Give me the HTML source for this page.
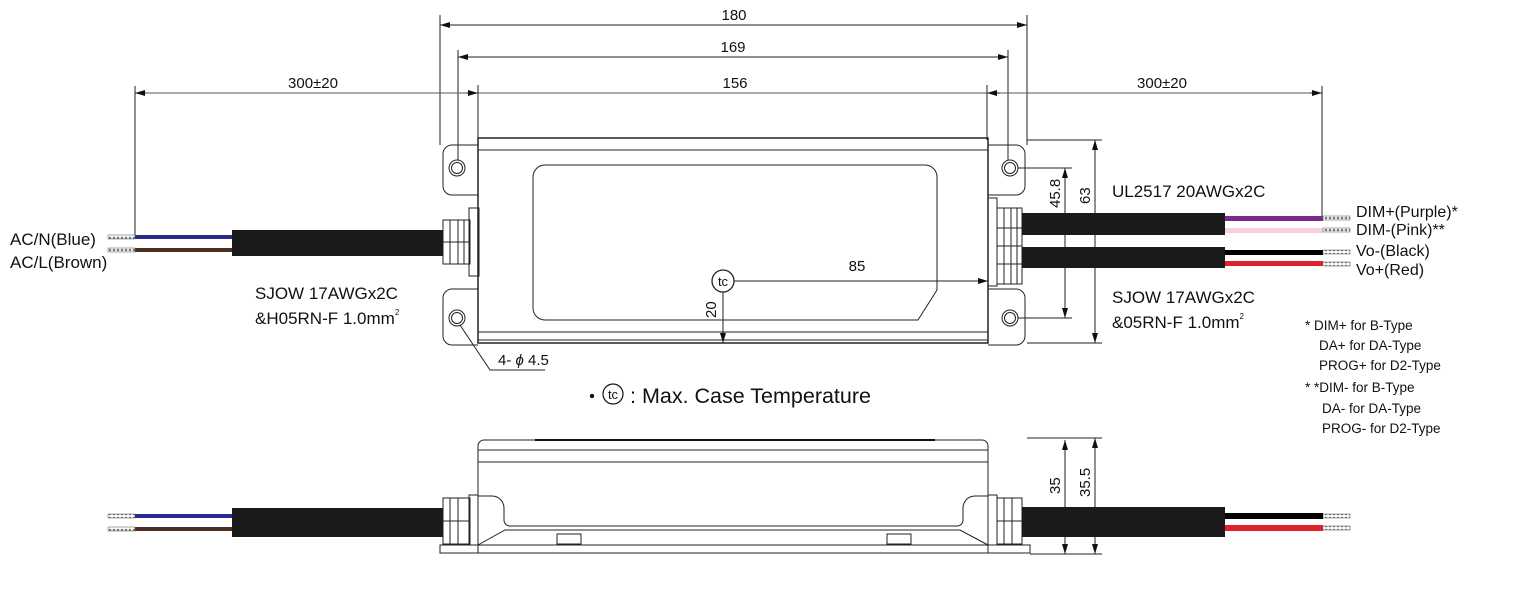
<!DOCTYPE html>
<html><head><meta charset="utf-8"><style>
html,body{margin:0;padding:0;background:#fff;}
svg{display:block;font-family:"Liberation Sans",sans-serif;}
text{fill:#111;}
</style></head><body>
<svg width="1515" height="610" viewBox="0 0 1515 610" xmlns="http://www.w3.org/2000/svg">
<defs>
<marker id="a" viewBox="0 0 10 6" refX="10" refY="3" markerWidth="10" markerHeight="6" orient="auto-start-reverse" markerUnits="userSpaceOnUse"><path d="M0,0L10,3L0,6z" fill="#111"/></marker>
<pattern id="str" width="4" height="4" patternUnits="userSpaceOnUse"><rect width="4" height="4" fill="#fff"/><circle cx="2" cy="2" r="1.3" fill="#777"/></pattern>
</defs>
<g stroke="#222" stroke-width="1" fill="none">
<line x1="440" y1="15" x2="440" y2="145"/><line x1="1027" y1="15" x2="1027" y2="145"/>
<line x1="458" y1="50" x2="458" y2="160"/><line x1="1008" y1="50" x2="1008" y2="160"/>
<line x1="478" y1="85" x2="478" y2="140"/><line x1="987" y1="85" x2="987" y2="140"/>
<line x1="440" y1="25" x2="1027" y2="25" marker-start="url(#a)" marker-end="url(#a)"/>
<line x1="458" y1="57" x2="1008" y2="57" marker-start="url(#a)" marker-end="url(#a)"/>
<line x1="135" y1="93" x2="1322" y2="93" stroke="#555"/>
<line x1="466" y1="93" x2="478" y2="93" marker-end="url(#a)"/>
<line x1="1000" y1="93" x2="987" y2="93" marker-end="url(#a)"/>
<line x1="146" y1="93" x2="135" y2="93" marker-end="url(#a)"/>
<line x1="1310" y1="93" x2="1322" y2="93" marker-end="url(#a)"/>
<line x1="135" y1="86" x2="135" y2="236"/><line x1="1322" y1="86" x2="1322" y2="218"/>
<rect x="478" y="138" width="510" height="205" stroke-width="1.5"/>
<line x1="478" y1="150" x2="988" y2="150"/><line x1="478" y1="332" x2="988" y2="332"/>
<line x1="478" y1="340" x2="988" y2="340"/>
<path d="M545,165 H925 a12,12 0 0 1 12,12 V290 L918,320 H545 a12,12 0 0 1 -12,-12 V177 a12,12 0 0 1 12,-12 z"/>
<path d="M478,145 H452 a9,9 0 0 0 -9,9 V186 a9,9 0 0 0 9,9 H478"/>
<path d="M478,289 H452 a9,9 0 0 0 -9,9 V336 a9,9 0 0 0 9,9 H478"/>
<circle cx="457" cy="168" r="8"/><circle cx="457" cy="168" r="5.5"/>
<circle cx="457" cy="318" r="8"/><circle cx="457" cy="318" r="5.5"/>
<rect x="469" y="208" width="10" height="68"/>
<rect x="443" y="220" width="27" height="44"/>
<line x1="450" y1="220" x2="450" y2="264"/><line x1="458" y1="220" x2="458" y2="264"/><line x1="464" y1="220" x2="464" y2="264"/>
<line x1="443" y1="242" x2="470" y2="242"/>
<path d="M988,145 H1016 a9,9 0 0 1 9,9 V186 a9,9 0 0 1 -9,9 H988"/>
<path d="M988,289 H1016 a9,9 0 0 1 9,9 V336 a9,9 0 0 1 -9,9 H988"/>
<circle cx="1010" cy="168" r="8"/><circle cx="1010" cy="168" r="5.5"/>
<circle cx="1010" cy="318" r="8"/><circle cx="1010" cy="318" r="5.5"/>
<rect x="988" y="198" width="9" height="88"/>
<rect x="997" y="208" width="25" height="76"/>
<line x1="1004" y1="208" x2="1004" y2="284"/><line x1="1011" y1="208" x2="1011" y2="284"/><line x1="1017" y1="208" x2="1017" y2="284"/>
<line x1="997" y1="228" x2="1022" y2="228"/><line x1="997" y1="246" x2="1022" y2="246"/><line x1="997" y1="264" x2="1022" y2="264"/>
<line x1="1018" y1="168" x2="1072" y2="168"/><line x1="1018" y1="318" x2="1072" y2="318"/>
<line x1="1027" y1="140" x2="1102" y2="140"/><line x1="1027" y1="343" x2="1102" y2="343"/>
<line x1="1065" y1="168" x2="1065" y2="318" marker-start="url(#a)" marker-end="url(#a)"/>
<line x1="1095" y1="140" x2="1095" y2="343" marker-start="url(#a)" marker-end="url(#a)"/>
<circle cx="723" cy="281" r="11" stroke-width="1.3"/>
<line x1="734" y1="281" x2="988" y2="281" marker-end="url(#a)"/>
<line x1="723" y1="292" x2="723" y2="343" marker-end="url(#a)"/>
<polyline points="460,325 490,370 545,370"/>
<path d="M478,553 V446 a6,6 0 0 1 6,-6 H982 a6,6 0 0 1 6,6 V553"/>
<line x1="478" y1="450" x2="988" y2="450"/><line x1="478" y1="462" x2="988" y2="462"/>
<path d="M478,496 H492 a12,12 0 0 1 12,12 V520 a6,6 0 0 0 6,6 H957 a6,6 0 0 0 6,-6 V508 a12,12 0 0 1 12,-12 H988"/>
<path d="M478,545 L505,530 H960 L988,545"/>
<rect x="440" y="545" width="590" height="8"/>
<line x1="478" y1="545" x2="988" y2="545"/>
<rect x="557" y="534" width="24" height="10"/><rect x="887" y="534" width="24" height="10"/>
<rect x="443" y="498" width="27" height="46"/><rect x="469" y="495" width="9" height="50"/>
<line x1="450" y1="498" x2="450" y2="544"/><line x1="458" y1="498" x2="458" y2="544"/><line x1="443" y1="521" x2="470" y2="521"/>
<rect x="997" y="498" width="25" height="46"/><rect x="988" y="495" width="9" height="50"/>
<line x1="1004" y1="498" x2="1004" y2="544"/><line x1="1012" y1="498" x2="1012" y2="544"/><line x1="997" y1="521" x2="1022" y2="521"/>
<line x1="1027" y1="438" x2="1102" y2="438"/><line x1="1030" y1="554" x2="1102" y2="554"/>
<line x1="1065" y1="440" x2="1065" y2="554" marker-start="url(#a)" marker-end="url(#a)"/>
<line x1="1095" y1="438" x2="1095" y2="554" marker-start="url(#a)" marker-end="url(#a)"/>
</g>
<line x1="535" y1="440" x2="935" y2="440" stroke="#111" stroke-width="2"/>
<rect x="232" y="230" width="211" height="26" fill="#1a1a1a"/>
<rect x="135" y="235" width="97" height="4" fill="#2a2a90"/>
<rect x="135" y="248" width="97" height="4" fill="#4a3020"/>
<rect x="108" y="235" width="27" height="4" fill="url(#str)" stroke="#555" stroke-width="0.5"/>
<rect x="108" y="248" width="27" height="4" fill="url(#str)" stroke="#555" stroke-width="0.5"/>
<rect x="1022" y="213" width="203" height="22" fill="#1a1a1a"/>
<rect x="1022" y="247" width="203" height="21" fill="#1a1a1a"/>
<rect x="1225" y="216" width="98" height="5" fill="#7a2a8a"/>
<rect x="1225" y="228" width="98" height="5" fill="#f6d0dc"/>
<rect x="1225" y="250" width="98" height="5" fill="#000"/>
<rect x="1225" y="261" width="98" height="5" fill="#e0202a"/>
<g fill="url(#str)" stroke="#555" stroke-width="0.5">
<rect x="1323" y="216" width="27" height="4"/><rect x="1323" y="228" width="27" height="4"/>
<rect x="1323" y="250" width="27" height="4"/><rect x="1323" y="262" width="27" height="4"/>
<rect x="108" y="514" width="27" height="4"/><rect x="108" y="527" width="27" height="4"/>
<rect x="1323" y="514" width="27" height="4"/><rect x="1323" y="526" width="27" height="4"/>
</g>
<rect x="232" y="508" width="211" height="29" fill="#1a1a1a"/>
<rect x="135" y="514" width="97" height="4" fill="#2a2a90"/>
<rect x="135" y="527" width="97" height="4" fill="#4a3020"/>
<rect x="1022" y="507" width="203" height="30" fill="#1a1a1a"/>
<rect x="1225" y="513" width="98" height="6" fill="#000"/>
<rect x="1225" y="525" width="98" height="6" fill="#e0202a"/>
<g font-size="15" text-anchor="middle">
<text x="734" y="20">180</text><text x="733" y="52">169</text><text x="735" y="88">156</text>
<text x="313" y="88">300±20</text><text x="1162" y="88">300±20</text>
<text x="857" y="271">85</text>
</g>
<g font-size="15">
<text transform="translate(1060,208) rotate(-90)">45.8</text>
<text transform="translate(1090,204) rotate(-90)">63</text>
<text transform="translate(716,318) rotate(-90)">20</text>
<text transform="translate(1060,494) rotate(-90)">35</text>
<text transform="translate(1090,497) rotate(-90)">35.5</text>
</g>
<g font-size="17">
<text x="10" y="245">AC/N(Blue)</text>
<text x="10" y="268">AC/L(Brown)</text>
<text x="255" y="299">SJOW 17AWGx2C</text>
<text x="255" y="324">&amp;H05RN-F 1.0mm<tspan font-size="8" dy="-9">2</tspan></text>
<text x="1112" y="197">UL2517 20AWGx2C</text>
<text x="1112" y="303">SJOW 17AWGx2C</text>
<text x="1112" y="328">&amp;05RN-F 1.0mm<tspan font-size="8" dy="-9">2</tspan></text>
</g>
<g font-size="16">
<text x="1356" y="217">DIM+(Purple)*</text>
<text x="1356" y="235">DIM-(Pink)**</text>
<text x="1356" y="256">Vo-(Black)</text>
<text x="1356" y="275">Vo+(Red)</text>
</g>
<g font-size="13.5">
<text x="1305" y="330">* DIM+ for B-Type</text>
<text x="1319" y="350">DA+ for DA-Type</text>
<text x="1319" y="370">PROG+ for D2-Type</text>
<text x="1305" y="392">* *DIM- for B-Type</text>
<text x="1322" y="413">DA- for DA-Type</text>
<text x="1322" y="433">PROG- for D2-Type</text>
<text x="498" y="365" font-size="15">4- <tspan font-style="italic">ϕ</tspan> 4.5</text>
</g>
<text x="723" y="286" font-size="13" text-anchor="middle">tc</text>
<circle cx="592" cy="396" r="2.2" fill="#111"/>
<circle cx="613" cy="394" r="10" fill="none" stroke="#111" stroke-width="1.2"/>
<text x="613" y="399" font-size="13" text-anchor="middle">tc</text>
<text x="630" y="403" font-size="21.5">: Max. Case Temperature</text>
</svg>
</body></html>
